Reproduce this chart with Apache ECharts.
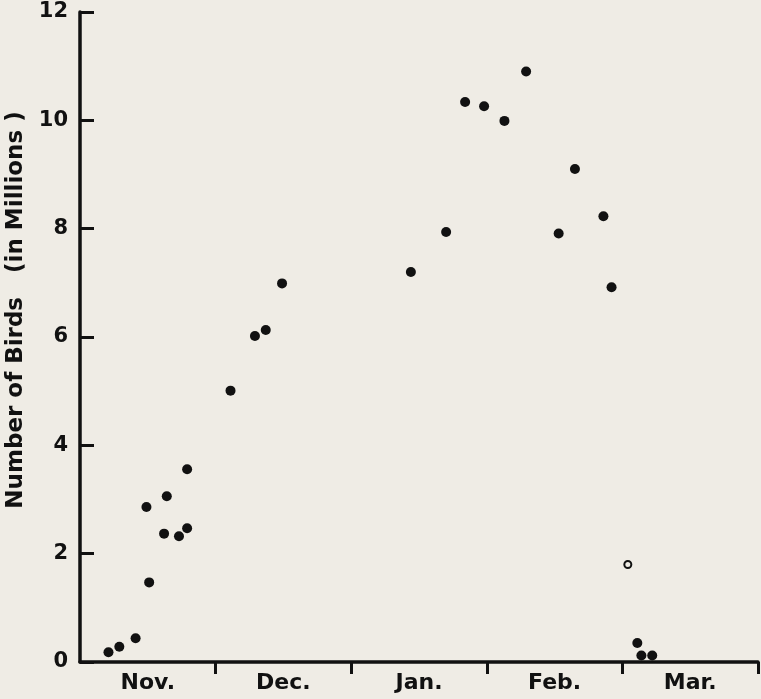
<!DOCTYPE html>
<html>
<head>
<meta charset="utf-8">
<script src="https://cdn.jsdelivr.net/npm/echarts@6/dist/echarts.min.js"></script>
<style>
html,body{margin:0;padding:0;background:#efece5;}
#c{width:761px;height:699px;}
</style>
</head>
<body>
<div id="c"></div>
<script>
// Month labels (x axis spans months; 0 = start of Nov., 5 = end of Mar.)
const months = ["Nov.", "Dec.", "Jan.", "Feb.", "Mar."];
const yTicks = [0, 2, 4, 6, 8, 10, 12];
// Filled dots: position in months since Nov. 1, and millions of birds
const filledX = [0.21, 0.29, 0.41, 0.49, 0.51, 0.64, 0.62, 0.73, 0.79, 0.79,
                 1.11, 1.29, 1.37, 1.49,
                 2.44, 2.70, 2.84, 2.98, 3.13, 3.29,
                 3.53, 3.65, 3.86, 3.92,
                 4.11, 4.14, 4.22];
const filledY = [0.18, 0.28, 0.44, 2.86, 1.47, 3.06, 2.37, 2.32, 2.47, 3.56,
                 5.01, 6.02, 6.13, 6.99,
                 7.20, 7.94, 10.34, 10.26, 9.99, 10.90,
                 7.91, 9.10, 8.23, 6.92,
                 0.35, 0.12, 0.12];
// Open circle
const openX = [4.04];
const openY = [1.80];

const ink = "#111111";
const font = "DejaVu Sans";

const chart = echarts.init(document.getElementById("c"), null, {renderer: "canvas"});
chart.setOption({
  backgroundColor: "#efece5",
  animation: false,
  grid: {left: 80, right: 3, top: 12, bottom: 37, containLabel: false, outerBoundsMode: "none"},
  xAxis: {
    type: "value",
    min: 0, max: months.length, interval: 1,
    splitLine: {show: false},
    axisLine: {show: true, onZero: false, lineStyle: {color: ink, width: 3.5}},
    axisTick: {show: true, inside: false, length: 12, customValues: [1, 2, 3, 4, 5],
               lineStyle: {color: ink, width: 3}},
    axisLabel: {
      show: true, margin: 10,
      customValues: months.map((m, i) => i + 0.5),
      formatter: v => months[Math.floor(v)],
      fontFamily: font, fontWeight: "bold", fontSize: 22, color: ink
    }
  },
  yAxis: {
    type: "value",
    min: yTicks[0], max: yTicks[yTicks.length - 1], interval: 2,
    splitLine: {show: false},
    axisLine: {show: true, lineStyle: {color: ink, width: 3.5}},
    axisTick: {show: true, inside: true, length: 14, lineStyle: {color: ink, width: 3}},
    axisLabel: {margin: 12, fontFamily: font, fontWeight: "bold", fontSize: 21, color: ink},
    name: "Number of Birds   (in Millions )",
    nameLocation: "middle",
    nameGap: 48,
    nameTextStyle: {fontFamily: font, fontWeight: "bold", fontSize: 23, color: ink,
                    padding: [0, 0, 0, 54]}
  },
  series: [
    {
      type: "scatter",
      data: filledX.map((x, i) => [x, filledY[i]]),
      symbol: "circle",
      symbolSize: 10,
      itemStyle: {color: ink, opacity: 1},
      z: 3
    },
    {
      type: "scatter",
      data: openX.map((x, i) => [x, openY[i]]),
      symbol: "circle",
      symbolSize: 7,
      itemStyle: {color: "#efece5", borderColor: ink, borderWidth: 2, opacity: 1},
      z: 3
    }
  ]
});
</script>
</body>
</html>
